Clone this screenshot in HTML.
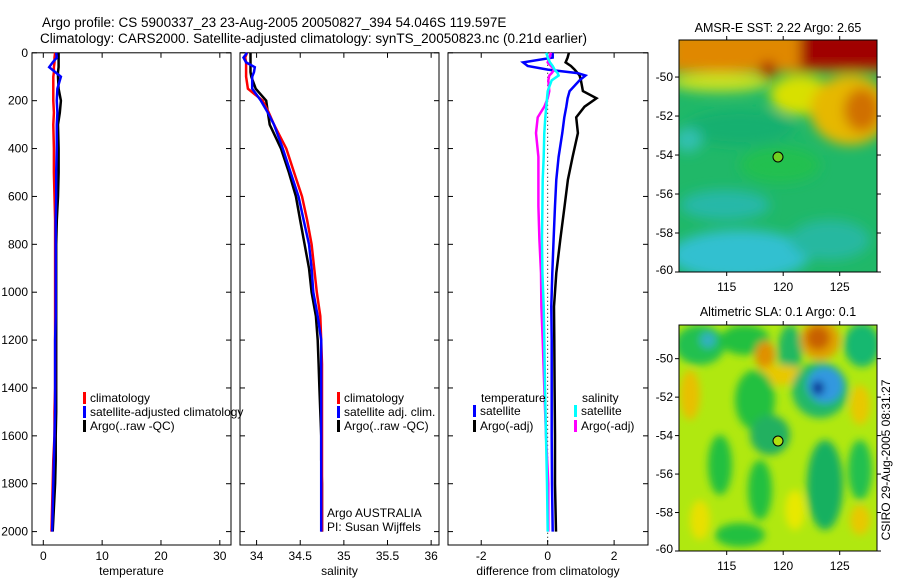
<!DOCTYPE html>
<html><head><meta charset="utf-8">
<style>
html,body{margin:0;padding:0;background:#fff;}
svg text{font-family:"Liberation Sans",sans-serif;fill:#000;}
</style></head>
<body>
<svg id="fig" width="900" height="580" viewBox="0 0 900 580" xmlns="http://www.w3.org/2000/svg">
<defs>
<filter id="blur1" x="-20%" y="-20%" width="140%" height="140%"><feGaussianBlur stdDeviation="6"/></filter>
<filter id="blur2" x="-20%" y="-20%" width="140%" height="140%"><feGaussianBlur stdDeviation="4"/></filter>
<clipPath id="clipM1"><rect x="679" y="40" width="198" height="232"/></clipPath>
<clipPath id="clipM2"><rect x="679" y="325" width="198" height="226"/></clipPath>
</defs>
<text x="42" y="27" font-size="13.5">Argo profile: CS 5900337_23 23-Aug-2005 20050827_394 54.046S 119.597E</text>
<text x="40" y="43" font-size="13.5">Climatology: CARS2000. Satellite-adjusted climatology: synTS_20050823.nc (0.21d earlier)</text>
<g id="charts"></g>

<!-- Map 1 -->
<g>
<g clip-path="url(#clipM1)">
<rect x="679" y="40" width="198" height="232" fill="#20b868"/>
<g filter="url(#blur1)">
<rect x="670" y="30" width="220" height="42" fill="#e08800"/>
<ellipse cx="720" cy="82" rx="50" ry="10" fill="#c8e020"/>
<ellipse cx="800" cy="95" rx="30" ry="20" fill="#d8e000"/>
<ellipse cx="850" cy="110" rx="40" ry="35" fill="#e6b800"/>
<ellipse cx="862" cy="110" rx="18" ry="22" fill="#d07000"/>
<rect x="800" y="30" width="90" height="40" fill="#a00000"/>
<ellipse cx="768" cy="70" rx="8" ry="9" fill="#a81000"/>
<ellipse cx="740" cy="128" rx="55" ry="18" fill="#18b070"/>
<ellipse cx="688" cy="140" rx="14" ry="12" fill="#30c0b0"/>
<ellipse cx="740" cy="255" rx="70" ry="25" fill="#30c0d0"/>
<ellipse cx="725" cy="205" rx="45" ry="15" fill="#28b8a8"/>
<ellipse cx="830" cy="240" rx="40" ry="20" fill="#28b8a0"/>
<ellipse cx="780" cy="165" rx="40" ry="18" fill="#20c050"/>
</g>
</g>
<rect x="679" y="40" width="198" height="232" fill="none" stroke="#000"/>
<circle cx="778" cy="157" r="5" fill="#70d020" stroke="#000"/>
<text x="778" y="32" font-size="12.5" text-anchor="middle">AMSR-E SST: 2.22 Argo: 2.65</text>
</g>

<!-- Map 2 -->
<g>
<g clip-path="url(#clipM2)">
<rect x="679" y="325" width="198" height="226" fill="#b0e810"/>
<g filter="url(#blur2)">
<ellipse cx="700" cy="345" rx="25" ry="20" fill="#20c050"/>
<ellipse cx="708" cy="340" rx="8" ry="8" fill="#30b0c0"/>
<ellipse cx="745" cy="340" rx="25" ry="15" fill="#20c040"/>
<ellipse cx="790" cy="350" rx="12" ry="25" fill="#20b860"/>
<ellipse cx="862" cy="345" rx="18" ry="22" fill="#18b870"/>
<ellipse cx="820" cy="340" rx="20" ry="20" fill="#e0a000"/>
<ellipse cx="818" cy="338" rx="12" ry="12" fill="#c86000"/>
<ellipse cx="765" cy="355" rx="10" ry="14" fill="#e09000"/>
<ellipse cx="780" cy="375" rx="25" ry="10" fill="#e8c800"/>
<ellipse cx="820" cy="390" rx="28" ry="28" fill="#20b868"/>
<ellipse cx="825" cy="385" rx="18" ry="18" fill="#3098e0"/>
<ellipse cx="818" cy="388" rx="6" ry="7" fill="#002890"/>
<ellipse cx="690" cy="395" rx="10" ry="25" fill="#e8c000"/>
<ellipse cx="860" cy="405" rx="10" ry="20" fill="#e8c800"/>
<ellipse cx="755" cy="400" rx="20" ry="30" fill="#20c040"/>
<ellipse cx="770" cy="435" rx="20" ry="20" fill="#20b060"/>
<ellipse cx="720" cy="465" rx="12" ry="30" fill="#20c040"/>
<ellipse cx="760" cy="490" rx="12" ry="30" fill="#20c040"/>
<ellipse cx="825" cy="485" rx="18" ry="45" fill="#18b060"/>
<ellipse cx="860" cy="470" rx="12" ry="30" fill="#20c050"/>
<ellipse cx="740" cy="535" rx="25" ry="12" fill="#20c040"/>
<ellipse cx="700" cy="520" rx="10" ry="20" fill="#e8e000"/>
<ellipse cx="860" cy="520" rx="10" ry="15" fill="#e8c800"/>
<ellipse cx="795" cy="510" rx="10" ry="20" fill="#e8e800"/>
</g>
</g>
<rect x="679" y="325" width="198" height="226" fill="none" stroke="#000"/>
<circle cx="778" cy="441" r="5" fill="#b0e010" stroke="#000"/>
<text x="778" y="316" font-size="12.5" text-anchor="middle">Altimetric SLA: 0.1 Argo: 0.1</text>
</g>
<g id="mapaxes"></g>
<text x="0" y="0" font-size="12" text-anchor="middle" transform="translate(890,460) rotate(-90)">CSIRO 29-Aug-2005 08:31:27</text>
</svg>
<script>
// ---- data ----
const depths = [0,20,40,60,80,100,150,200,250,300,400,500,600,700,800,900,1000,1100,1200,1300,1400,1500,1600,1700,1800,1900,2000];
const tempClim = [2.0,1.9,1.9,1.8,1.8,1.7,1.7,1.7,1.8,1.7,1.8,1.8,1.9,2.0,2.0,2.0,2.0,2.0,2.0,2.0,2.0,1.9,1.9,1.7,1.6,1.5,1.4];
const tempSat = [2.2,2.3,1.6,1.0,2.0,3.0,2.4,2.3,2.4,2.3,2.3,2.2,2.2,2.1,2.1,2.1,2.1,2.1,2.0,2.0,2.0,2.0,1.9,1.8,1.7,1.6,1.5];
const tempArgo = [2.6,2.6,2.6,2.6,2.5,2.5,2.6,3.0,2.8,2.5,2.6,2.6,2.5,2.3,2.2,2.2,2.2,2.2,2.2,2.2,2.2,2.2,2.1,2.1,2.0,1.8,1.6];
const salClim = [33.89,33.87,33.88,33.88,33.88,33.88,33.9,34.07,34.14,34.2,34.34,34.43,34.52,34.58,34.63,34.66,34.69,34.73,34.74,34.75,34.75,34.75,34.75,34.75,34.75,34.75,34.75];
const salSat = [33.89,33.85,33.88,33.98,33.97,33.95,33.95,34.05,34.13,34.2,34.3,34.39,34.48,34.54,34.6,34.63,34.65,34.7,34.74,34.74,34.74,34.74,34.74,34.74,34.74,34.74,34.74];
const salArgo = [33.93,33.93,33.93,33.93,33.93,33.94,33.99,34.11,34.13,34.15,34.28,34.37,34.45,34.5,34.55,34.6,34.63,34.68,34.7,34.71,34.72,34.73,34.74,34.74,34.75,34.75,34.75];
const diffDepths = [0,20,40,55,70,85,95,115,160,190,225,270,335,435,530,640,780,920,1060,1200,1400,1600,1800,2000];
const diffTempSat = [0.15,0.15,-0.74,-0.6,0.0,0.9,1.14,0.96,0.66,0.6,0.56,0.5,0.44,0.33,0.26,0.22,0.18,0.14,0.11,0.12,0.12,0.12,0.13,0.15];
const diffTempArgo = [0.64,0.6,0.54,0.7,0.81,0.9,0.96,1.0,1.06,1.47,1.11,0.86,0.91,0.75,0.61,0.51,0.38,0.26,0.19,0.2,0.21,0.22,0.22,0.25];
const diffSalSat = [-0.04,0.0,0.07,0.15,0.21,0.3,0.33,0.12,0.0,-0.02,-0.04,-0.07,-0.1,-0.12,-0.15,-0.16,-0.17,-0.16,-0.12,-0.1,-0.08,-0.05,-0.02,0.0];
const diffSalArgo = [0.1,0.05,0.0,0.1,0.2,0.12,0.05,0.02,0.05,0.0,-0.1,-0.3,-0.35,-0.28,-0.28,-0.28,-0.25,-0.2,-0.19,-0.15,-0.1,-0.05,0.02,0.02];
const depthTicks = [0,200,400,600,800,1000,1200,1400,1600,1800,2000];
const tempTicks = [0,10,20,30];
const salTicks = [34,34.5,35,35.5,36];
const salTickLabels = ['34','34.5','35','35.5','36'];
const diffTicks = [-2,0,2];
const lonTicks = [115,120,125];
const latTicks = [-50,-52,-54,-56,-58,-60];

const NS='http://www.w3.org/2000/svg';
const g=document.getElementById('charts');
function mk(tag,attrs,parent){const e=document.createElementNS(NS,tag);for(const k in attrs)e.setAttribute(k,attrs[k]);(parent||g).appendChild(e);return e;}
const yTop=52.8, yBot=545, dScale=0.2394;
function yD(d){return yTop+d*dScale;}

const panels=[
 {name:'temperature',x0:32,x1:231,v0:-1.92,v1:31.9,ticks:tempTicks,labels:tempTicks.map(String),title:'temperature'},
 {name:'salinity',x0:240,x1:439,v0:33.81,v1:36.09,ticks:salTicks,labels:salTickLabels,title:'salinity'},
 {name:'difference',x0:448,x1:648,v0:-3.0,v1:3.02,ticks:diffTicks,labels:diffTicks.map(String),title:'difference from climatology'}
];
panels.forEach(p=>{p.sx=v=>p.x0+(v-p.v0)/(p.v1-p.v0)*(p.x1-p.x0);});

function drawLine(p,ds,vals,color,name,w){
  const pts=vals.map((v,i)=>p.sx(v).toFixed(1)+','+yD(ds[i]).toFixed(1)).join(' ');
  const l=mk('polyline',{points:pts,fill:'none',stroke:color,'stroke-width':w||2.5,'stroke-linejoin':'miter'});
  
  
}

panels.forEach((p,pi)=>{
  const r=mk('rect',{x:p.x0,y:yTop,width:p.x1-p.x0,height:yBot-yTop,fill:'none',stroke:'#000','stroke-width':1});
  
  
  depthTicks.forEach(d=>{
    const y=yD(d);
    mk('line',{x1:p.x0,x2:p.x0+5,y1:y,y2:y,stroke:'#000'});
    mk('line',{x1:p.x1,x2:p.x1-5,y1:y,y2:y,stroke:'#000'});
    if(pi===0){
      const t=mk('text',{x:p.x0-4,y:y+4,'font-size':12,'text-anchor':'end'});
      t.textContent=d;
      
      
    }
  });
  p.ticks.forEach((v,i)=>{
    const x=p.sx(v);
    mk('line',{x1:x,x2:x,y1:yBot,y2:yBot-5,stroke:'#000'});
    mk('line',{x1:x,x2:x,y1:yTop,y2:yTop+5,stroke:'#000'});
    const t=mk('text',{x:x,y:yBot+15,'font-size':12,'text-anchor':'middle'});
    t.textContent=p.labels[i];
    
    
  });
  const at=mk('text',{x:(p.x0+p.x1)/2,y:575,'font-size':12,'text-anchor':'middle'});
  at.textContent=p.title;
  
  
});

const P1=panels[0],P2=panels[1],P3=panels[2];
drawLine(P1,depths,tempArgo,'#000','temp-argo-line');
drawLine(P1,depths,tempClim,'#f00','temp-climatology-line');
drawLine(P1,depths,tempSat,'#00f','temp-satellite-line');
drawLine(P2,depths,salArgo,'#000','sal-argo-line');
drawLine(P2,depths,salClim,'#f00','sal-climatology-line');
drawLine(P2,depths,salSat,'#00f','sal-satellite-line');
// zero line
const z=mk('line',{x1:P3.sx(0),x2:P3.sx(0),y1:yTop,y2:yBot,stroke:'#000','stroke-dasharray':'1,3'});


drawLine(P3,diffDepths,diffTempArgo,'#000','diff-temp-argo-line');
drawLine(P3,diffDepths,diffTempSat,'#00f','diff-temp-satellite-line');
drawLine(P3,diffDepths,diffSalArgo,'#f0f','diff-sal-argo-line');
drawLine(P3,diffDepths,diffSalSat,'#0ff','diff-sal-satellite-line');

function legend(x,y,color,label,name){
  if(color){
    const b=mk('rect',{x:x,y:y-10,width:3,height:12,fill:color});
    
    
  }
  const t=mk('text',{x:x+7,y:y,'font-size':12});
  t.textContent=label;
  
  
}
legend(83,402,'#f00','climatology','legend-climatology');
legend(83,416,'#00f','satellite-adjusted climatology','legend-satellite-adjusted');
legend(83,430,'#000','Argo(..raw -QC)','legend-argo-raw');
legend(337,402,'#f00','climatology','legend-sal-climatology');
legend(337,416,'#00f','satellite adj. clim.','legend-sal-satellite');
legend(337,430,'#000','Argo(..raw -QC)','legend-sal-argo');
legend(474,402,null,'temperature','legend-temp-heading');
legend(473,415,'#00f','satellite','legend-diff-temp-satellite');
legend(473,430,'#000','Argo(-adj)','legend-diff-temp-argo');
legend(575,402,null,'salinity','legend-sal-heading');
legend(574,415,'#0ff','satellite','legend-diff-sal-satellite');
legend(574,430,'#f0f','Argo(-adj)','legend-diff-sal-argo');
legend(320,517,null,'Argo AUSTRALIA','argo-country-label');
legend(320,531,null,'PI: Susan Wijffels','pi-label');

// map axes
const ma=document.getElementById('mapaxes');
const maps=[{y0:40,y1:272,lat0:-48.1,name:'sst'},{y0:325,y1:551,lat0:-48.25,name:'sla'}];
const mx0=679,mx1=877,lonL=110.78,lonR=128.3;
function mxs(lon){return mx0+(lon-lonL)/(lonR-lonL)*(mx1-mx0);}
maps.forEach(m=>{
  const ys=lat=>m.y0+(lat-m.lat0)/(-60-m.lat0)*(m.y1-m.y0);
  lonTicks.forEach(l=>{
    const x=mxs(l);
    mk('line',{x1:x,x2:x,y1:m.y1,y2:m.y1+4,stroke:'#000'},ma);
    mk('line',{x1:x,x2:x,y1:m.y0,y2:m.y0-4,stroke:'#000'},ma);
    const t=mk('text',{x:x,y:m.y1+19,'font-size':12,'text-anchor':'middle'},ma);
    t.textContent=l;
    
    
  });
  latTicks.forEach(l=>{
    const y=ys(l);
    mk('line',{x1:mx0,x2:mx0-4,y1:y,y2:y,stroke:'#000'},ma);
    mk('line',{x1:mx1,x2:mx1+4,y1:y,y2:y,stroke:'#000'},ma);
    const t=mk('text',{x:mx0-6,y:Math.min(y+4,m.y1+2),'font-size':12,'text-anchor':'end'},ma);
    t.textContent='-'+Math.abs(l);
    
    
  });
});
</script>
</body></html>
